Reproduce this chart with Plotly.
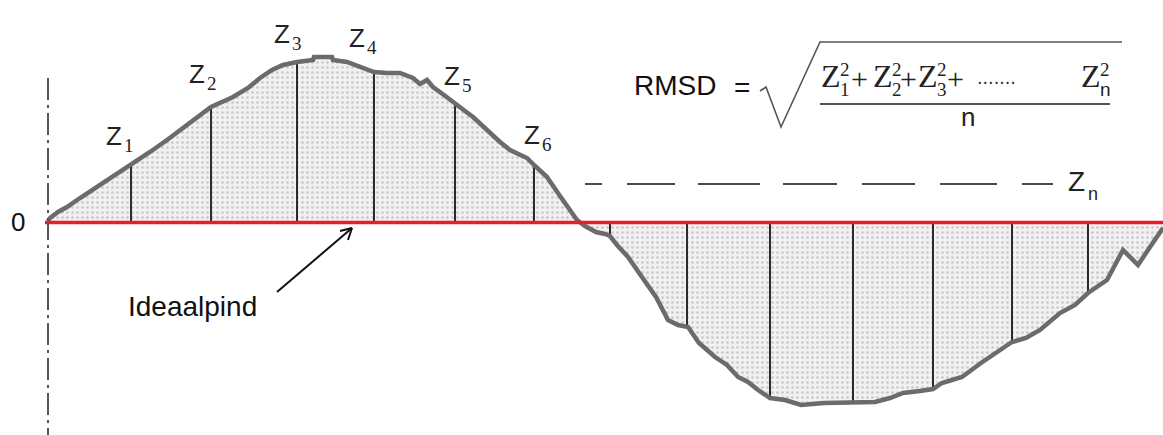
import numpy as np
import plotly.graph_objects as go

# Surface profile: horizontal position and height above the ideal (zero) plane
profile_x = [48, 50, 58, 67, 80, 100, 115, 131, 150, 167, 180, 193, 211, 233, 248, 260,
             272, 283, 297, 313, 314, 332, 333, 347, 360, 374, 387, 400, 413, 420, 427,
             433, 444, 455, 465, 473, 490, 500, 510, 520, 527, 534, 547, 560, 570, 577,
             585, 596, 605, 610, 617, 628, 644, 656, 668, 678, 688, 699, 715, 727, 738,
             748, 758, 770, 785, 801, 824, 853, 875, 890, 903, 920, 933, 942, 962, 981,
             1000, 1012, 1026, 1040, 1060, 1075, 1088, 1107, 1123, 1138, 1150, 1163]
profile_h = [1, 4, 10, 15, 24, 37, 47, 58, 70, 82, 92, 102, 115, 125, 134, 144,
             152, 157, 160, 162, 165, 165, 162, 160, 155, 150, 149, 149, 144, 138, 142,
             135, 127, 118, 111, 105, 89, 80, 72, 67, 64, 57, 45, 26, 12, 2,
             -4, -10, -12, -14, -23, -35, -58, -75, -98, -103, -105, -121, -135, -143, -155,
             -160, -168, -176, -178, -183, -181, -181, -180, -176, -171, -169, -167, -161, -155, -141,
             -128, -120, -116, -108, -91, -83, -71, -58, -28, -43, -25, -6]

# Positions where the deviation Z is measured
sample_x = [131, 211, 297, 374, 455, 534, 610, 687, 770, 853, 933, 1012, 1088]

# Labelled deviations along the rising part
z_labels = ["1", "2", "3", "4", "5", "6"]

W, H = 1163, 435
ZERO_PX = 222


def Y(py):
    """Screen row -> height in chart units (1 unit = 1 px)."""
    return ZERO_PX - py


fig = go.Figure()

# Stippled area between the profile and the ideal plane
fig.add_trace(go.Scatter(
    x=profile_x, y=profile_h, mode="lines", fill="tozeroy",
    fillcolor="#f1f1f1",
    fillpattern=dict(shape=".", bgcolor="#f1f1f1", fgcolor="#9c9c9c",
                     size=5, solidity=0.22),
    line=dict(color="rgba(0,0,0,0)", width=0),
    hoverinfo="skip", showlegend=False))

# Vertical deviation lines
sample_h = np.interp(sample_x, profile_x, profile_h)
vx, vy = [], []
for sx, sh in zip(sample_x, sample_h):
    vx += [sx, sx, None]
    vy += [0, float(sh), None]
fig.add_trace(go.Scatter(x=vx, y=vy, mode="lines",
                         line=dict(color="#2b2b2b", width=2),
                         hoverinfo="skip", showlegend=False))

# Profile outline
fig.add_trace(go.Scatter(x=profile_x, y=profile_h, mode="lines",
                         line=dict(color="#6b6b6b", width=4.5),
                         hoverinfo="skip", showlegend=False))

shapes = []
# Left reference axis (dash-dot)
shapes.append(dict(type="line", x0=48, x1=48, y0=Y(78), y1=Y(440),
                   line=dict(color="#555555", width=2, dash="22px,5px,3px,5px")))
# Ideal plane
shapes.append(dict(type="line", x0=45, x1=1163, y0=-0.5, y1=-0.5,
                   line=dict(color="#e3202a", width=3.5)))
# Z_n level (dashed)
shapes.append(dict(type="line", x0=585, x1=1053, y0=Y(184), y1=Y(184),
                   line=dict(color="#4a4a4a", width=2.2,
                             dash="17px,25px,48px,23px,62px,23px,54px,25px,53px,25px,57px,25px,31px,40px")))
# Radical sign and overline
rad = [(760, 91), (766, 87), (781, 127), (820, 42), (1122, 42)]
path = "M " + " L ".join(f"{px},{Y(py)}" for px, py in rad)
shapes.append(dict(type="path", path=path, line=dict(color="#555555", width=1.6)))
# Fraction bar
shapes.append(dict(type="line", x0=820, x1=1110, y0=Y(104), y1=Y(104),
                   line=dict(color="#555555", width=2)))
# Arrow to the ideal plane
tail, head = (277, 292), (352, 228)
shapes.append(dict(type="line", x0=tail[0], y0=Y(tail[1]), x1=head[0], y1=Y(head[1]),
                   line=dict(color="#111111", width=2)))
for ax_, ay_ in [(340, 231), (348, 240)]:
    shapes.append(dict(type="line", x0=ax_, y0=Y(ay_), x1=head[0], y1=Y(head[1]),
                       line=dict(color="#111111", width=2)))

annotations = []
SANS = "Liberation Sans"
SERIF = "Liberation Serif"


def txt(s, x, py, size, family=SANS, color="#111111", xanchor="left"):
    annotations.append(dict(text=s, x=x, y=Y(py), xref="x", yref="y",
                            showarrow=False, xanchor=xanchor, yanchor="middle",
                            font=dict(family=family, size=size, color=color)))


txt("0", 18, 222, 26, xanchor="center")
txt("Ideaalpind", 192, 306, 28, xanchor="center")

# Z labels above the sample lines: (Z left edge, Z cap centre row)
z_pos = [(105, 136), (188, 74), (273, 34), (348, 38), (443, 76), (523, 135)]
for lab, (zx, zy) in zip(z_labels, z_pos):
    txt("Z", zx - 1, zy, 26, color="#222222")
    txt(lab, zx + 17, zy + 9, 19, family=SERIF, color="#222222")
txt("Z", 1066, 181, 28, color="#222222")
txt("n", 1086, 194, 18, color="#222222")

# RMSD formula
txt("RMSD", 632, 85, 28)
txt("=", 742, 87, 28, xanchor="center")
for zx, sub in [(820, "1"), (872, "2"), (917, "3"), (1080, "n")]:
    txt("Z", zx - 1, 76, 32, family=SERIF, color="#222222")
    txt("2", zx + 18, 69, 19, family=SERIF, color="#222222")
    txt(sub, zx + 18, 89, 19, family=SERIF if sub != "n" else SANS, color="#222222")
for plx in [859, 908, 955]:
    txt("+", plx, 78, 30, family=SERIF, color="#222222", xanchor="center")
txt(".......", 975, 77, 20, color="#333333")
txt("n", 968, 117, 26, color="#222222", xanchor="center")

fig.update_layout(
    width=W, height=H, margin=dict(l=0, r=0, t=0, b=0),
    paper_bgcolor="white", plot_bgcolor="white",
    xaxis=dict(range=[0, W], visible=False, fixedrange=True),
    yaxis=dict(range=[Y(H), Y(0)], visible=False, fixedrange=True),
    shapes=shapes, annotations=annotations, showlegend=False,
)

fig.write_html("out.html")
